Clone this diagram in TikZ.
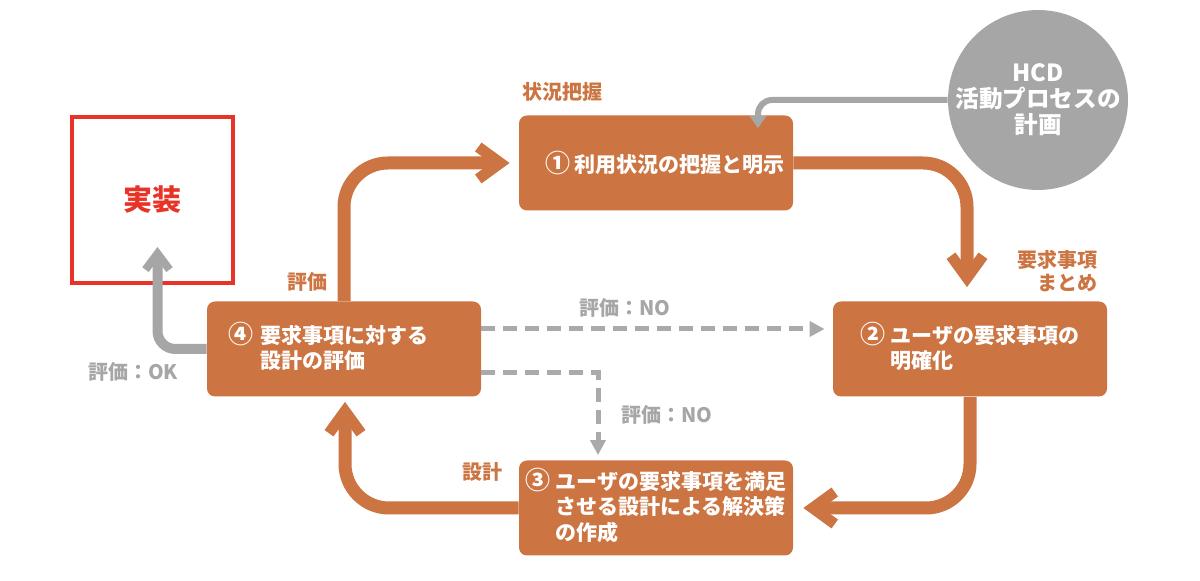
\documentclass[tikz,border=0pt]{standalone}
\usepackage{fontspec}
\setmainfont{Noto Sans CJK JP}
\usetikzlibrary{calc, arrows.meta}
\definecolor{hcdorange}{RGB}{204,117,66}
\definecolor{hcdgray}{RGB}{166,166,166}
\definecolor{nogray}{RGB}{170,170,170}
\definecolor{implred}{RGB}{232,52,40}
\newcommand{\stepno}[1]{{\fontsize{12.5pt}{12pt}\selectfont #1}}
\tikzset{
	stepbox/.style={fill=hcdorange, text=white, rounded corners=4pt, minimum width=137pt, minimum height=47.5pt, inner sep=0pt, font=\fontsize{10.5pt}{12pt}\selectfont\bfseries},
	steplabel/.style={text=hcdorange, align=right, font=\fontsize{10pt}{11.5pt}\selectfont\bfseries},
	judge/.style={text=hcdgray, font=\fontsize{10pt}{12pt}\selectfont\bfseries},
	flow/.style={draw=hcdorange, line width=6.5pt, rounded corners=22pt, -{Straight Barb[length=11pt, width=16pt, line width=5.5pt]}},
	okflow/.style={draw=hcdgray, line width=5pt, rounded corners=9pt, -{Straight Barb[length=8pt, width=12pt, line width=4pt]}},
	planflow/.style={draw=hcdgray, line width=3pt, rounded corners=7pt, -{Triangle[length=6pt, width=8pt]}},
	noflow/.style={draw=nogray, line width=2.5pt, dash pattern=on 7pt off 4pt, -{Triangle[length=7.5pt, width=7.5pt]}},
}
\begin{document}
\begin{tikzpicture}[x=0.5pt, y=-0.5pt]
	\useasboundingbox (0,0) rectangle (1200,581);
	% process steps
	\node[stepbox] (box1) at (656,163) {\hspace*{9pt}\stepno{①} 利用状況の把握と明示};
	\node[stepbox] (box2) at (970,349) {\begin{tabular}{@{}l@{\ }l@{}}\stepno{②}&ユーザの要求事項の\\&明確化\end{tabular}};
	\node[stepbox] (box3) at (656,508) {\begin{tabular}{@{}l@{\ }l@{}}\stepno{③}&ユーザの要求事項を満足\\&させる設計による解決策\\&の作成\end{tabular}};
	\node[stepbox, text width=116pt, inner xsep=10.5pt, align=left] (box4) at (344,349) {\begin{tabular}{@{}l@{\ }l@{}}\stepno{④}&要求事項に対する\\&設計の評価\end{tabular}};
	
	\node[circle, fill=hcdgray, minimum size=84pt, inner sep=0pt, text=white, align=center, font=\fontsize{11.8pt}{13pt}\selectfont\bfseries] (hcd) at (1038,100) {HCD\\活動プロセスの\\計画};
	\node[draw=implred, line width=2pt, minimum width=80.5pt, minimum height=83pt, text=implred, font=\fontsize{14.5pt}{16pt}\selectfont\bfseries] (impl) at (152.5,200) {実装};
	
	% labels
	\node[steplabel] (lb1) at (562,92) {状況把握};
	\node[steplabel, anchor=east] (lb2) at (1105,271) {要求事項\\まとめ};
	\node[steplabel] (lb3) at (482,472) {設計};
	\node[steplabel] (lb4) at (307,282) {評価};
	\node[judge] (no1) at (625,308) {評価：NO};
	\node[judge] (no2) at (667,415) {評価：NO};
	\node[judge] (ok) at (133,372) {評価：OK};
	
	% cycle
	\draw[flow] (box4.north) |- ($(box1.west)+(-9,0)$);
	\draw[flow] (box1.east) -| ($(box2.north)+(-3,-14)$);
	\draw[flow] (box2.south) |- ($(box3.east)+(10,0)$);
	\draw[flow] (box3.west) -| ($(box4.south)+(1,5)$);
	
	\draw[planflow] (hcd.west) -| ($(box1.north)+(102,13)$);
	\draw[okflow] (box4.west) -| ($(impl.south)+(5,-38)$);
	\draw[noflow] ($(box4.east)+(0,-20)$) -- ($(box2.west)+(-8,-20)$);
	\draw[noflow] ($(box4.east)+(0,24)$) -| ($(box3.north)+(-58,-5)$);
\end{tikzpicture}
\end{document}
